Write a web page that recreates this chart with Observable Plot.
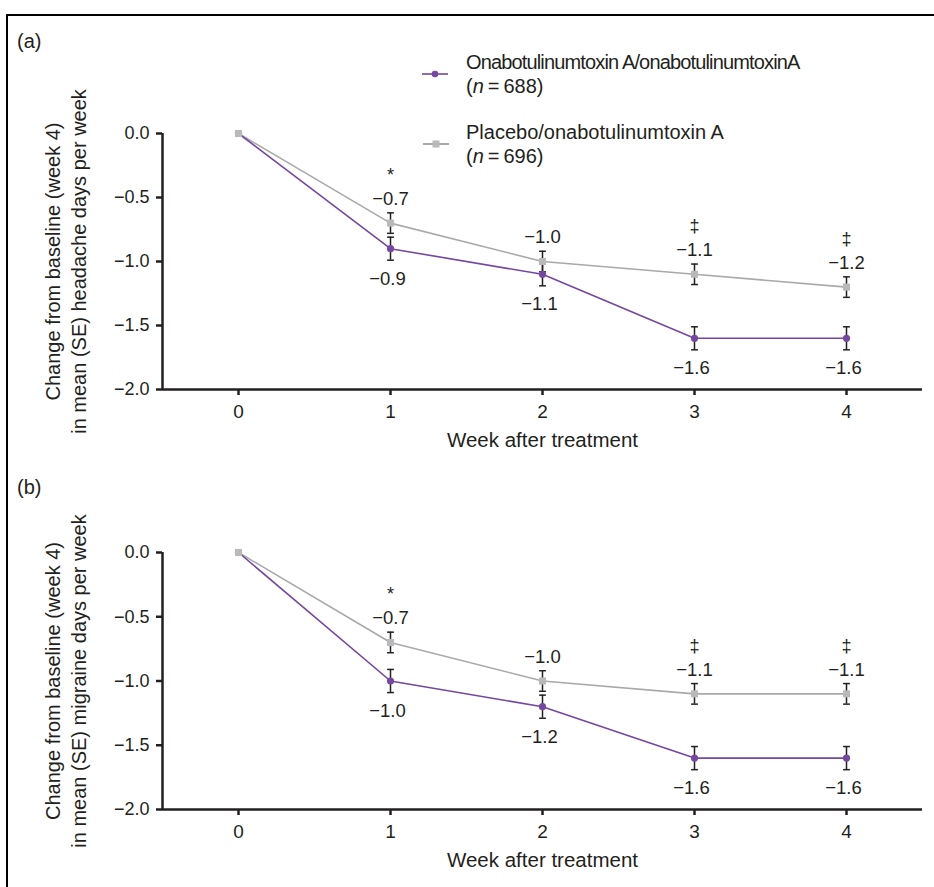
<!DOCTYPE html>
<html>
<head>
<meta charset="utf-8">
<script src="https://cdn.jsdelivr.net/npm/d3@7"></script>
<script src="https://cdn.jsdelivr.net/npm/@observablehq/plot@0.6"></script>
<style>
  html, body { margin: 0; padding: 0; background: #fff; }
  #root { position: relative; width: 934px; height: 887px; overflow: hidden; font-family: "Liberation Sans", Arial, sans-serif; color: #231f20; }
  .frame { position: absolute; left: 6px; top: 14px; width: 1000px; height: 1000px; border-top: 2.5px solid #000; border-left: 2.5px solid #000; }
  .panel { position: absolute; left: 0; }
  .letter { position: absolute; left: 17px; font-size: 20px; }
  .legend { position: absolute; left: 420px; font-size: 20px; line-height: 24px; }
  .legend .row { position: relative; padding-left: 46px; margin-bottom: 22px; }
  .legend .row.tight .name { letter-spacing: -0.85px; }
  .legend svg { position: absolute; left: 0; top: 14px; }
</style>
</head>
<body>
<div id="root">
  <div class="frame"></div>
</div>
<script>
// ---- data ----
const weeks = [0, 1, 2, 3, 4];
const headacheOna = [0, -0.9, -1.1, -1.6, -1.6];
const headachePlacebo = [0, -0.7, -1.0, -1.1, -1.2];
const migraineOna = [0, -1.0, -1.2, -1.6, -1.6];
const migrainePlacebo = [0, -0.7, -1.0, -1.1, -1.1];
const seOna = [0, 0.09, 0.09, 0.09, 0.09];
const sePlacebo = [0, 0.08, 0.08, 0.08, 0.08];
const significance = ["", "*", "", "\u2021", "\u2021"];
const yTicks = [0, -0.5, -1.0, -1.5, -2.0];
const seriesNames = ["Onabotulinumtoxin A/onabotulinumtoxinA", "Placebo/onabotulinumtoxin A"];
const seriesN = [688, 696];

const purple = "#7447a0";
const grayLine = "#a9a9ab";
const grayMark = "#b9b9bb";
const ink = "#231f20";
const fmt = d3.format(".1f");

const capSymbol = {
  draw(context, size) {
    const r = Math.sqrt(size / Math.PI);
    context.moveTo(-r, 0);
    context.lineTo(r, 0);
  }
};

function panel(ona, placebo, yLabel, top, height, marginTop, marginBottom) {
  const rows = weeks.map((w, i) => ({
    week: w, ona: ona[i], placebo: placebo[i],
    seO: seOna[i], seP: sePlacebo[i], sig: significance[i]
  }));
  const later = rows.filter(d => d.week > 0);
  const chart = Plot.plot({
    width: 934,
    height,
    marginLeft: 162,
    marginRight: 12,
    marginTop,
    marginBottom,
    style: { fontFamily: "'Liberation Sans', Arial, sans-serif", fontSize: "18px", color: ink, background: "transparent", overflow: "visible" },
    x: { domain: [-0.5, 4.5] },
    y: { domain: [-2, 0] },
    marks: [
      Plot.axisY({ ticks: yTicks, tickFormat: fmt, tickSize: 6, tickPadding: 7, label: null, stroke: ink, strokeWidth: 2.5, fontSize: 18 }),
      Plot.axisX({ ticks: weeks, tickFormat: d3.format("d"), tickSize: 6, tickPadding: 9, label: null, stroke: ink, strokeWidth: 2.5, fontSize: 19 }),
      Plot.ruleX([-0.5], { stroke: ink, strokeWidth: 2.5 }),
      Plot.ruleY([-2], { stroke: ink, strokeWidth: 2.5 }),
      // error bars
      Plot.ruleX(later, { x: "week", y1: d => d.ona - d.seO, y2: d => d.ona + d.seO, stroke: ink, strokeWidth: 1.5 }),
      Plot.ruleX(later, { x: "week", y1: d => d.placebo - d.seP, y2: d => d.placebo + d.seP, stroke: ink, strokeWidth: 1.5 }),
      Plot.dot(later, { x: "week", y: d => d.ona - d.seO, symbol: capSymbol, r: 3.4, stroke: ink, strokeWidth: 1.5 }),
      Plot.dot(later, { x: "week", y: d => d.ona + d.seO, symbol: capSymbol, r: 3.4, stroke: ink, strokeWidth: 1.5 }),
      Plot.dot(later, { x: "week", y: d => d.placebo - d.seP, symbol: capSymbol, r: 3.4, stroke: ink, strokeWidth: 1.5 }),
      Plot.dot(later, { x: "week", y: d => d.placebo + d.seP, symbol: capSymbol, r: 3.4, stroke: ink, strokeWidth: 1.5 }),
      // lines
      Plot.line(rows, { x: "week", y: "placebo", stroke: grayLine, strokeWidth: 1.6 }),
      Plot.line(rows, { x: "week", y: "ona", stroke: purple, strokeWidth: 1.6 }),
      Plot.dot(rows, { x: "week", y: "ona", r: 3.6, fill: purple, stroke: "none" }),
      Plot.dot(rows, { x: "week", y: "placebo", symbol: "square", r: 4, fill: grayMark, stroke: "none" }),
      // value labels
      Plot.text(later, { x: "week", y: "placebo", text: d => fmt(d.placebo), dy: -24, fill: ink, fontSize: 18.5 }),
      Plot.text(later, { x: "week", y: "ona", text: d => fmt(d.ona), dy: 30, dx: -3, fill: ink, fontSize: 18.5 }),
      Plot.text(later, { x: "week", y: "placebo", text: "sig", dy: -48, fill: ink, fontSize: 18 }),
      // axis titles
      Plot.text([yLabel], { frameAnchor: "left", dx: -98, rotate: -90, lineHeight: 1.3, fill: ink, fontSize: 20, textAnchor: "middle" }),
      Plot.text(["Week after treatment"], { frameAnchor: "bottom", dy: 57, fill: ink, fontSize: 20.5 })
    ]
  });
  const wrap = document.createElement("div");
  wrap.className = "panel";
  wrap.style.top = top + "px";
  wrap.appendChild(chart);
  return wrap;
}

const root = document.getElementById("root");
root.appendChild(panel(headacheOna, headachePlacebo,
  "Change from baseline (week 4)\nin mean (SE) headache days per week", 0, 460, 133, 71));
root.appendChild(panel(migraineOna, migrainePlacebo,
  "Change from baseline (week 4)\nin mean (SE) migraine days per week", 455, 432, 97, 78));

function letter(t, top) {
  const d = document.createElement("div");
  d.className = "letter";
  d.style.top = top + "px";
  d.textContent = t;
  root.appendChild(d);
}
letter("(a)", 30);
letter("(b)", 476);

// legend
const legend = document.createElement("div");
legend.className = "legend";
legend.style.top = "50px";
seriesNames.forEach((name, i) => {
  const row = document.createElement("div");
  row.className = i === 0 ? "row tight" : "row";
  const sym = i === 0
    ? `<svg width="30" height="20"><line x1="2" y1="10" x2="28" y2="10" stroke="${purple}" stroke-width="1.6"/><circle cx="15" cy="10" r="3.3" fill="${purple}"/></svg>`
    : `<svg width="30" height="20"><line x1="3" y1="10" x2="29" y2="10" stroke="${grayLine}" stroke-width="2"/><rect x="12.5" y="6.5" width="7" height="7" fill="${grayMark}"/></svg>`;
  row.innerHTML = sym + `<div class="name">${name}</div><div>(<i>n</i>\u2009=\u2009${seriesN[i]})</div>`;
  legend.appendChild(row);
});
root.appendChild(legend);
</script>
</body>
</html>
